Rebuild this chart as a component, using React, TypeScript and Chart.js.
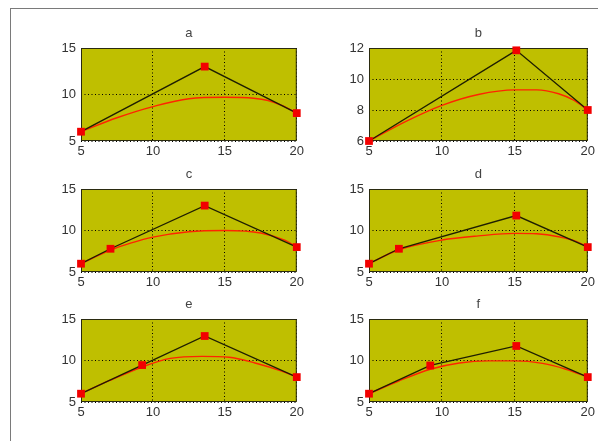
import React, { useEffect, useRef } from "react";
import { Chart, registerables } from "chart.js";

Chart.register(...registerables);
Chart.defaults.font.family = "'Liberation Sans', Arial, sans-serif";

// Panel titles and shared x ticks
const panelTitles = ["a", "b", "c", "d", "e", "f"];
const xTickValues = [5, 10, 15, 20];

// Control polygons (black line with square markers)
const aPolyX = [5, 13.6, 20];
const aPolyY = [6, 13, 8];
const bPolyX = [5, 15.1, 20];
const bPolyY = [6, 11.85, 8];
const cPolyX = [5, 7.05, 13.6, 20];
const cPolyY = [6, 7.8, 13, 8];
const dPolyX = [5, 7.05, 15.1, 20];
const dPolyY = [6, 7.8, 11.8, 8];
const ePolyX = [5, 9.25, 13.6, 20];
const ePolyY = [6, 9.45, 12.95, 8];
const fPolyX = [5, 9.2, 15.1, 20];
const fPolyY = [6, 9.4, 11.75, 8];

// Smooth curves (red)
const aCurveX = [5, 7.5, 10, 12.5, 15, 17, 18, 19, 20];
const aCurveY = [6, 7.5, 8.7, 9.55, 9.7, 9.6, 9.35, 8.8, 8];
const bCurveX = [5, 7.5, 10, 12.5, 15, 16.5, 18, 19, 20];
const bCurveY = [6, 7.25, 8.3, 9.0, 9.3, 9.3, 9.05, 8.65, 8];
const cCurveX = [5, 7, 8.5, 10, 12.5, 15, 17.5, 19.2, 20];
const cCurveY = [6, 7.6, 8.5, 9.2, 9.85, 10.0, 9.7, 8.8, 8];
const dCurveX = [5, 7, 10, 12.5, 15, 16.5, 18, 19.2, 20];
const dCurveY = [6, 7.65, 8.85, 9.35, 9.65, 9.6, 9.25, 8.7, 8];
const eCurveX = [5, 7, 9.3, 11.2, 13.4, 15.3, 17.1, 19, 20];
const eCurveY = [6, 7.6, 9.25, 10.25, 10.5, 10.4, 9.7, 8.7, 8];
const fCurveX = [5, 7, 9.2, 11.2, 13.2, 15, 16.9, 18.5, 20];
const fCurveY = [6, 7.5, 8.95, 9.7, 9.95, 9.95, 9.65, 8.95, 8];

// y-axis ranges
const yLimitsDefault = [5, 15, 5];
const yLimitsB = [6, 12, 2];

// Plot-area boxes on the page: [left, top, width, height]
const leftCol = [81, 218];
const rightCol = [369, 221];
const rowBoxes = [
  [48, 93],
  [189, 83],
  [319, 83],
];

const PAD_L = 45;
const PAD_T = 30;
const PAD_R = 8;
const PAD_B = 25;

const OLIVE = "rgb(191,191,0)";

type PanelProps = {
  title: string;
  polyX: number[];
  polyY: number[];
  curveX: number[];
  curveY: number[];
  yLim: number[];
  left: number;
  top: number;
  w: number;
  h: number;
};

function Panel(p: PanelProps) {
  const ref = useRef<HTMLCanvasElement | null>(null);

  useEffect(() => {
    const canvas = ref.current;
    if (!canvas) return;
    const tickStyle = { size: 13 };
    const chart = new Chart(canvas, {
      type: "line",
      data: {
        datasets: [
          {
            data: p.polyX.map((x, i) => ({ x, y: p.polyY[i] })),
            borderColor: "#1e1e00",
            borderWidth: 1.3,
            tension: 0,
            pointStyle: "rect",
            pointRadius: 5.5,
            pointBackgroundColor: "#f20000",
            pointBorderWidth: 0,
            clip: false,
            order: 0,
          },
          {
            data: p.curveX.map((x, i) => ({ x, y: p.curveY[i] })),
            borderColor: "#ff2400",
            borderWidth: 1.4,
            pointRadius: 0,
            cubicInterpolationMode: "monotone",
            order: 1,
          },
        ],
      },
      options: {
        responsive: false,
        maintainAspectRatio: false,
        devicePixelRatio: 1,
        animation: false,
        events: [],
        layout: {
          autoPadding: false,
          padding: { left: 0, top: PAD_T, right: PAD_R, bottom: 0 },
        },
        plugins: {
          legend: { display: false },
          tooltip: { enabled: false },
          title: { display: false },
        },
        scales: {
          x: {
            type: "linear",
            min: xTickValues[0],
            max: xTickValues[xTickValues.length - 1],
            afterBuildTicks: (s: any) => {
              s.ticks = xTickValues.map((v) => ({ value: v }));
            },
            afterFit: (s: any) => {
              s.height = PAD_B;
            },
            ticks: { padding: 3, color: "#333", font: tickStyle, autoSkip: false, maxRotation: 0 },
            grid: { color: "#000", lineWidth: 1, drawTicks: false },
            border: { display: false, dash: [1, 2.5] },
          },
          y: {
            type: "linear",
            min: p.yLim[0],
            max: p.yLim[1],
            ticks: { stepSize: p.yLim[2], padding: 5, color: "#333", font: tickStyle },
            afterFit: (s: any) => {
              s.width = PAD_L;
            },
            grid: { color: "#000", lineWidth: 1, drawTicks: false },
            border: { display: false, dash: [1, 2.5] },
          },
        },
      },
      plugins: [
        {
          id: "axesFrame",
          beforeDraw(c: any) {
            const a = c.chartArea;
            const ctx = c.ctx;
            ctx.save();
            ctx.fillStyle = OLIVE;
            ctx.fillRect(a.left, a.top, a.right - a.left, a.bottom - a.top);
            ctx.restore();
          },
          beforeDatasetsDraw(c: any) {
            const a = c.chartArea;
            const ctx = c.ctx;
            ctx.save();
            ctx.strokeStyle = "#2a2a10";
            ctx.lineWidth = 1;
            ctx.strokeRect(a.left + 0.5, a.top + 0.5, a.right - a.left - 1, a.bottom - a.top - 1);
            ctx.restore();
          },
          afterDraw(c: any) {
            const a = c.chartArea;
            const ctx = c.ctx;
            ctx.save();
            ctx.fillStyle = "#444";
            ctx.font = "13px 'Liberation Sans', Arial, sans-serif";
            ctx.textAlign = "center";
            ctx.textBaseline = "alphabetic";
            ctx.fillText(p.title, (a.left + a.right) / 2, a.top - 11);
            ctx.restore();
          },
        },
      ],
    } as any);
    return () => chart.destroy();
  }, []);

  return (
    <canvas
      ref={ref}
      width={p.w + PAD_L + PAD_R}
      height={p.h + PAD_T + PAD_B}
      style={{
        position: "absolute",
        left: p.left - PAD_L,
        top: p.top - PAD_T,
        width: p.w + PAD_L + PAD_R,
        height: p.h + PAD_T + PAD_B,
      }}
    />
  );
}

export default function App() {
  useEffect(() => {
    document.body.style.overflow = "hidden";
  }, []);

  const polys = [
    [aPolyX, aPolyY, aCurveX, aCurveY],
    [bPolyX, bPolyY, bCurveX, bCurveY],
    [cPolyX, cPolyY, cCurveX, cCurveY],
    [dPolyX, dPolyY, dCurveX, dCurveY],
    [ePolyX, ePolyY, eCurveX, eCurveY],
    [fPolyX, fPolyY, fCurveX, fCurveY],
  ];

  return (
    <div style={{ position: "absolute", left: 0, top: 0, width: 598, height: 441, background: "#fff", overflow: "hidden" }}>
      <div
        style={{
          position: "absolute",
          left: 10,
          top: 8,
          width: 600,
          height: 440,
          borderTop: "1px solid #7a7a7a",
          borderLeft: "1px solid #7a7a7a",
        }}
      />
      {polys.map((d, i) => {
        const col = i % 2 === 0 ? leftCol : rightCol;
        const row = rowBoxes[Math.floor(i / 2)];
        return (
          <Panel
            key={i}
            title={panelTitles[i]}
            polyX={d[0]}
            polyY={d[1]}
            curveX={d[2]}
            curveY={d[3]}
            yLim={i === 1 ? yLimitsB : yLimitsDefault}
            left={col[0]}
            top={row[0]}
            w={col[1]}
            h={row[1]}
          />
        );
      })}
    </div>
  );
}
